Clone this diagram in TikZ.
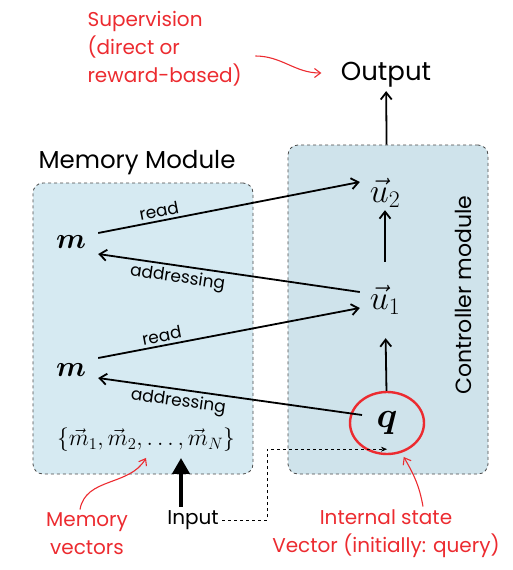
\RequirePackage{fix-cm}
\documentclass[tikz,border=0pt]{standalone}
\usepackage[no-math]{fontspec}
\setmainfont{Poppins}
\usepackage{amsmath}
\usepackage{bm}
\usetikzlibrary{arrows.meta,positioning,shapes.geometric}
\definecolor{mnred}{HTML}{EC2B30}
\definecolor{mnmem}{HTML}{D6EAF2}
\definecolor{mnctrl}{HTML}{CFE3EB}
\definecolor{mngrey}{HTML}{4A4A4A}

\begin{document}
\begin{tikzpicture}[
  x=1pt,y=-1pt,
  module/.style={draw=mngrey,dashed,rounded corners=10pt,line width=0.8pt,inner sep=0pt},
  title/.style={font=\fontsize{24.5}{28}\selectfont},
  note/.style={text=mnred,font=\fontsize{20}{28}\selectfont,align=center},
  mvar/.style={font=\fontsize{29}{32}\selectfont,minimum width=54pt,inner sep=0pt},
  uvar/.style={font=\fontsize{34}{36}\selectfont,minimum width=50pt,minimum height=34pt,inner sep=0pt},
  elbl/.style={font=\fontsize{17}{19}\selectfont,sloped,inner sep=3pt},
  arr/.style={-{Straight Barb[length=7pt,width=11pt]},line width=1.8pt},
  bigarr/.style={-{Triangle[length=16pt,width=17pt]},line width=4pt},
  dsh/.style={-{Stealth[length=6pt,width=5pt]},dashed,line width=0.6pt},
  redarr/.style={-{Straight Barb[length=6pt,width=9pt]},draw=mnred,line width=1.1pt}
]
\useasboundingbox (0,0) rectangle (513,570);

\node[module,fill=mnmem,minimum width=220pt,minimum height=291pt] (mem) at (143,328.5) {};
\node[module,fill=mnctrl,minimum width=200pt,minimum height=329pt] (ctrl) at (388,309.5) {};
\node[title] (memlbl) at (137,163) {Memory Module};
\node[title,font=\fontsize{22}{26}\selectfont,rotate=90] (ctrllbl) at (463,295) {Controller module};

\node[font=\fontsize{26}{30}\selectfont] (out) at (386,75) {Output};
\node[note,align=left,anchor=west] (sup) at (84,49) {Supervision\\(direct or\\reward-based)};

\node[mvar] (m1) at (71,242) {$\bm{m}$};
\node[mvar] (m2) at (71,370) {$\bm{m}$};
\node[uvar] (u2) at (385,193) {$\vec{u}_2$};
\node[uvar] (u1) at (385,300) {$\vec{u}_1$};
\node[ellipse,draw=mnred,line width=2.4pt,minimum width=74pt,minimum height=62pt,
      inner sep=0pt,font=\fontsize{36}{38}\selectfont] (q) at (387,423) {$\bm{q}$};
\node[font=\fontsize{23.5}{26}\selectfont,inner sep=6pt] (mset) at (146,440)
  {$\{\vec{m}_1,\vec{m}_2,\ldots,\vec{m}_N\}$};

\node[font=\fontsize{20}{24}\selectfont] (inp) at (193,520) {Input};
\node[note] (memvec) at (87,534) {Memory\\vectors};
\node[note] (state) at (386,534) {Internal state\\Vector (initially: query)};

\draw[arr] (ctrl) -- (out);
\draw[arr,shorten <=21pt] (u1) -- (u2);
\draw[arr,shorten >=21pt] (q) -- (u1);
\draw[arr] ([yshift=9pt]m1.east) -- node[elbl,pos=0.24,above] {read} ([yshift=11pt]u2.west);
\draw[arr] ([yshift=8pt]u1.west) -- node[elbl,pos=0.69,below] {addressing} ([yshift=-12pt]m1.east);
\draw[arr] ([yshift=12pt]m2.east) -- node[elbl,pos=0.25,above] {read} ([yshift=-8pt]u1.west);
\draw[arr] ([xshift=-25pt,yshift=8pt]q.center) -- node[elbl,pos=0.69,below] {addressing} ([yshift=-8pt]m2.east);

\draw[bigarr] ([xshift=-12pt]inp.north) -- ([xshift=-12pt]inp.north |- mset.south);
\draw[dsh] (inp.east) -- ++(45,0) |- ([yshift=6pt]q.south);

\draw[redarr] ([xshift=10pt,yshift=-7pt]sup.east) to[out=0,in=180] ([xshift=-16pt,yshift=2pt]out.west);
\draw[redarr] ([xshift=-7pt]memvec.north) to[out=80,in=-120] (mset.south);
\draw[redarr] ([xshift=37pt]state.north) to[out=100,in=-60] ([yshift=-5pt]q.-60);
\end{tikzpicture}
\end{document}
